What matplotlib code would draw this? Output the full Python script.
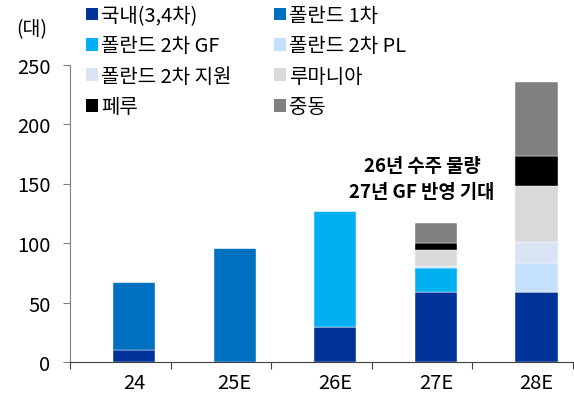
import numpy as np
import matplotlib.pyplot as plt
from matplotlib.patches import Patch

plt.rcParams['font.family'] = ['Noto Sans CJK KR', 'DejaVu Sans']

# -------------------- DATA --------------------
years = ['24', '25E', '26E', '27E', '28E']
series = ['국내(3,4차)', '폴란드 1차', '폴란드 2차 GF', '폴란드 2차 PL',
          '폴란드 2차 지원', '루마니아', '페루', '중동']
colors = ['#003399', '#0070C0', '#00B0F0', '#C5E0FA',
          '#DAE3F3', '#D9D9D9', '#000000', '#808080']

domestic = [10, 0, 29, 59, 59]
poland1 = [57, 96, 0, 0, 0]
poland2_gf = [0, 0, 98, 20, 0]
poland2_pl = [0, 0, 0, 2, 24]
poland2_sup = [0, 0, 0, 0, 18]
romania = [0, 0, 0, 13, 47]
peru = [0, 0, 0, 6, 25]
mideast = [0, 0, 0, 17, 62]
values = [domestic, poland1, poland2_gf, poland2_pl,
          poland2_sup, romania, peru, mideast]

note = '26년 수주 물량\n27년 GF 반영 기대'

# -------------------- PLOT --------------------
fig = plt.figure(figsize=(5.74, 4.02), dpi=100)
ax = fig.add_axes([70 / 574, 39 / 402, 504 / 574, 297.5 / 402])

x = np.arange(len(years)) + 0.637
bottom = np.zeros(len(years))
for name, vals, c in zip(series, values, colors):
    vals = np.array(vals, dtype=float)
    ax.bar(x, vals, width=0.42, bottom=bottom, color=c,
           edgecolor='white', linewidth=0.3, label=name)
    bottom += vals

ax.set_xlim(0, 5.01)
ax.set_ylim(0, 250)
ax.set_yticks([0, 50, 100, 150, 200, 250])
ax.set_xticks(np.arange(0, 6))
ax.set_xticklabels([])
ax.set_xticks(x, minor=True)
ax.set_xticklabels(years, minor=True)
ax.tick_params(axis='x', which='major', length=5, direction='out', color='#404040')
ax.tick_params(axis='x', which='minor', length=0, pad=7, labelsize=14.5)
ax.tick_params(axis='y', length=5, direction='out', color='#808080',
               labelsize=14.5, pad=9)

for s in ['top', 'right']:
    ax.spines[s].set_visible(False)
ax.spines['left'].set_color('#808080')
ax.spines['bottom'].set_color('#404040')

fig.text(32 / 574, 1 - 30 / 402, '(대)', fontsize=14, ha='center', va='center')

ax.text(3.5, 154, note, ha='center', va='center', fontsize=13.5,
        fontweight='bold', linespacing=1.45)

handles = [Patch(facecolor=c, label=n) for n, c in zip(series, colors)]
order = [0, 2, 4, 6, 1, 3, 5, 7]
fig.legend([handles[i] for i in order], [series[i] for i in order],
           ncol=2, loc='upper left', bbox_to_anchor=(86 / 574, 1 - 6 / 402),
           frameon=False, fontsize=14.4, handlelength=0.6, handleheight=0.6,
           handletextpad=0.15, columnspacing=2.15, labelspacing=0.47,
           borderaxespad=0, borderpad=0)

fig.savefig('out.png', dpi=100)
